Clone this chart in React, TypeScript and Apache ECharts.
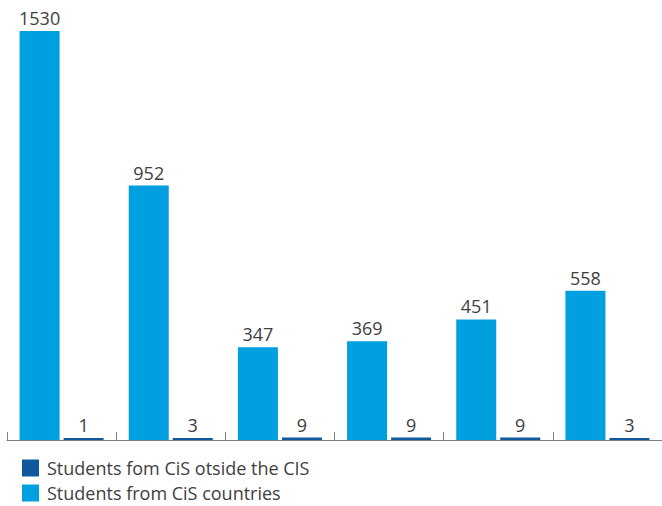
import React, { useEffect, useRef } from "react";
import * as echarts from "echarts";

const categories = ["A", "B", "C", "D", "E", "F"];
const cisCountries = [1530, 952, 347, 369, 451, 558];
const outsideCis = [1, 3, 9, 9, 9, 3];
const seriesNames = ["Students from CiS countries", "Students fom CiS otside the CIS"];

export default function App() {
  const ref = useRef<HTMLDivElement>(null);
  useEffect(() => {
    const chart = echarts.init(ref.current!, null, { renderer: "svg" });
    const font = "'Open Sans', sans-serif";
    chart.setOption({
      animation: false,
      grid: { left: 7, top: 31, width: 660, height: 409 },
      legend: {
        orient: "vertical",
        left: 22,
        top: 459,
        padding: 0,
        itemWidth: 17,
        itemHeight: 17,
        itemGap: 7,
        icon: "rect",
        data: [seriesNames[1], seriesNames[0]],
        textStyle: { fontFamily: font, fontSize: 18, lineHeight: 18, color: "#404040", padding: [0, 0, 0, 3] },
      },
      xAxis: {
        type: "category",
        data: categories,
        axisLine: { show: true, lineStyle: { color: "#808080", width: 1 } },
        axisTick: { show: true, inside: true, length: 8, interval: 0, lineStyle: { color: "#808080", width: 1 } },
        axisLabel: { show: true, color: "transparent", fontSize: 1 },
      },
      yAxis: {
        type: "value",
        min: 0,
        max: 1530,
        show: false,
        splitLine: { show: false },
      },
      series: [
        {
          name: seriesNames[0],
          type: "bar",
          data: cisCountries,
          barWidth: 40,
          barGap: "10%",
          itemStyle: { color: "#009fdf" },
          label: {
            show: true,
            position: "top",
            distance: 4,
            fontFamily: font,
            fontSize: 18,
            color: "#404040",
          },
        },
        {
          name: seriesNames[1],
          type: "bar",
          data: outsideCis,
          barWidth: 40,
          barGap: "10%",
          barMinHeight: 2,
          itemStyle: { color: "#0e5a9c" },
          label: {
            show: true,
            position: "top",
            distance: 4,
            fontFamily: font,
            fontSize: 18,
            color: "#404040",
          },
        },
      ],
    });
    return () => chart.dispose();
  }, []);
  return <div ref={ref} style={{ width: 662, height: 506, position: "absolute", left: 0, top: 0 }} />;
}
